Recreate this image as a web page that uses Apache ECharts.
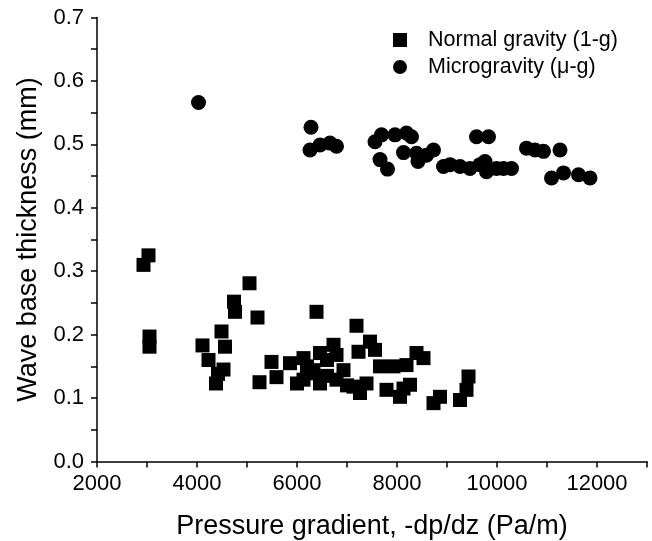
<!DOCTYPE html>
<html>
<head>
<meta charset="utf-8">
<script src="https://cdn.jsdelivr.net/npm/echarts@6/dist/echarts.min.js"></script>
<style>
  html, body { margin: 0; padding: 0; background: #fff; }
  #chart { width: 652px; height: 541px; }
</style>
</head>
<body>
<div id="chart"></div>
<script>
// normal gravity (1-g)
const normalX = [2930, 3030, 3050, 3050, 4110, 4230, 4380, 4420, 4490, 4530, 4560, 4740, 4760, 5050, 5210,
  5250, 5490, 5590, 5860, 6000, 6130, 6130, 6230, 6200, 6330, 6390, 6460, 6460, 6600, 6600, 6730, 6790,
  6790, 6930, 7000, 7130, 7190, 7230, 7260, 7390, 7460, 7560, 7660, 7790, 7930, 8060, 8130, 8190, 8260,
  8390, 8530, 8730, 8860, 9260, 9390, 9430];
const normalY = [0.310, 0.325, 0.197, 0.181, 0.183, 0.160, 0.123, 0.138, 0.205, 0.145, 0.181, 0.252, 0.236, 0.281, 0.227,
  0.125, 0.157, 0.133, 0.155, 0.123, 0.163, 0.129, 0.139, 0.150, 0.144, 0.236, 0.171, 0.123, 0.160, 0.135, 0.184, 0.168,
  0.129, 0.144, 0.120, 0.118, 0.214, 0.173, 0.108, 0.123, 0.189, 0.176, 0.150, 0.113, 0.150, 0.102, 0.115, 0.152, 0.121,
  0.171, 0.163, 0.092, 0.102, 0.097, 0.113, 0.134];

// microgravity (u-g)
const microX = [4030, 6280, 6260, 6460, 6660, 6790, 7560, 7690, 7960, 7660, 7810, 8130, 8190, 8290, 8390,
  8420, 8590, 8730, 8930, 9060, 9260, 9460, 9590, 9660, 9830, 9760, 9790, 9990, 10130, 10290, 10590, 10760,
  10930, 11260, 11090, 11330, 11630, 11860];
const microY = [0.566, 0.527, 0.491, 0.499, 0.502, 0.497, 0.504, 0.515, 0.515, 0.476, 0.461, 0.487, 0.518, 0.512, 0.486,
  0.473, 0.483, 0.491, 0.465, 0.468, 0.465, 0.462, 0.512, 0.468, 0.512, 0.473, 0.457, 0.462, 0.462, 0.462, 0.494, 0.491,
  0.489, 0.491, 0.447, 0.455, 0.452, 0.447];

const seriesNames = ["Normal gravity (1-g)", "Microgravity (\u03bc-g)"];

const font = "Liberation Sans, Arial, sans-serif";
const zip = (xs, ys) => xs.map((x, i) => [x, ys[i]]);

const myChart = echarts.init(document.getElementById("chart"));
myChart.setOption({
  animation: false,
  backgroundColor: "#fff",
  textStyle: { fontFamily: font, color: "#000" },
  grid: { left: 97, right: 5, top: 17.5, bottom: 79.5, outerBoundsMode: "none", containLabel: false },
  legend: {
    orient: "vertical",
    left: 388,
    top: 24,
    itemWidth: 14,
    itemHeight: 14,
    itemGap: 5,
    textStyle: { fontSize: 21.5, color: "#000", fontFamily: font, lineHeight: 22, padding: [0, 0, 0, 16] },
    data: seriesNames
  },
  xAxis: {
    type: "value",
    min: 2000,
    max: 13000,
    interval: 1000,
    name: "Pressure gradient, -dp/dz (Pa/m)",
    nameLocation: "middle",
    nameGap: 52,
    nameTextStyle: { fontSize: 27, color: "#000", fontFamily: font },
    axisLine: { lineStyle: { color: "#000", width: 1.5 } },
    axisTick: { length: 6, lineStyle: { color: "#000", width: 1.5 } },
    axisLabel: {
      fontSize: 22, color: "#000", margin: 11,
      formatter: (v) => (v % 2000 === 0 && v < 13000 ? String(v) : "")
    },
    splitLine: { show: false }
  },
  yAxis: {
    type: "value",
    min: 0,
    max: 0.7,
    interval: 0.05,
    name: "Wave base thickness (mm)",
    nameLocation: "middle",
    nameGap: 48,
    nameTextStyle: { fontSize: 27, color: "#000", fontFamily: font },
    axisLine: { show: true, lineStyle: { color: "#000", width: 1.5 } },
    axisTick: { show: true, length: 6, lineStyle: { color: "#000", width: 1.5 } },
    axisLabel: {
      fontSize: 22, color: "#000", margin: 13,
      formatter: (v) => {
        const k = Math.round(v * 20);
        return k % 2 === 0 ? (k / 20).toFixed(1) : "";
      }
    },
    splitLine: { show: false }
  },
  series: [
    {
      name: seriesNames[0],
      type: "scatter",
      symbol: "rect",
      symbolSize: 14,
      itemStyle: { color: "#000", opacity: 1 },
      data: zip(normalX, normalY)
    },
    {
      name: seriesNames[1],
      type: "scatter",
      symbol: "circle",
      symbolSize: 15,
      itemStyle: { color: "#000", opacity: 1 },
      data: zip(microX, microY)
    }
  ]
});
</script>
</body>
</html>
